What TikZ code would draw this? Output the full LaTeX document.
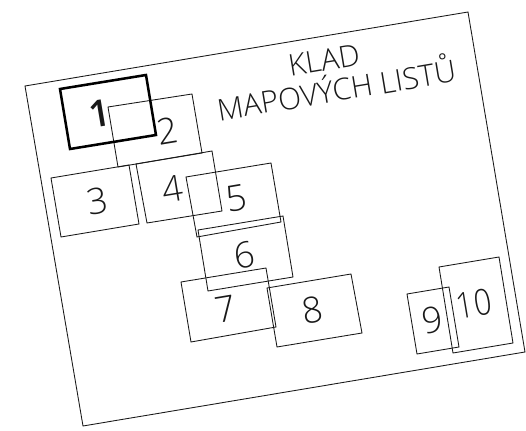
\documentclass[tikz,border=0pt]{standalone}
\usepackage{fontspec}
\setmainfont{Open Sans Light}
\newfontfamily\heavyfont{Open Sans Semibold}
\tikzset{
  sheet/.style={draw=black!90,line width=0.65pt},
  label/.style={inner sep=0pt,rotate=9.5,text=black!90,font=\fontsize{27}{27}\selectfont},
  title/.style={inner sep=0pt,rotate=9.5,text=black!90,font=\fontsize{22.5}{23}\selectfont},
}
\begin{document}
\begin{tikzpicture}[x=0.75pt,y=-0.75pt]
\useasboundingbox (0,0) rectangle (526,431);
\draw[sheet] (25,86) -- (468,12) -- (525,352) -- (83,426) -- cycle;
\draw[sheet] (108,107) -- (192,94) -- (202,153) -- (118,167) -- cycle;
\draw[sheet] (51,178) -- (129,165) -- (139,224) -- (61,237) -- cycle;
\draw[sheet] (136,164) -- (212,151) -- (222,211) -- (147,223) -- cycle;
\draw[sheet] (186,177) -- (271,163) -- (281,222) -- (197,237) -- cycle;
\draw[sheet] (198,230) -- (283,216) -- (293,277) -- (208,291) -- cycle;
\draw[sheet] (181,282) -- (266,268) -- (276,327) -- (191,342) -- cycle;
\draw[sheet] (267,288) -- (351,274) -- (362,333) -- (277,347) -- cycle;
\draw[sheet] (407,294) -- (449,287) -- (459,347) -- (417,354) -- cycle;
\draw[sheet] (439,267) -- (499,257) -- (513,343) -- (453,353) -- cycle;
\draw[line width=1.9pt,black] (60,89) -- (146,75) -- (156,135) -- (70,149) -- cycle;
\node[label,font=\heavyfont\fontsize{28}{28}\selectfont] (n1) at (100,114) {1};
\node[label] (n2) at (167,131) {2};
\node[label] (n3) at (98,201) {3};
\node[label] (n4) at (172,189) {4};
\node[label] (n5) at (237,198) {5};
\node[label] (n6) at (245,255) {6};
\node[label] (n7) at (226,309) {7};
\node[label] (n8) at (313,310) {8};
\node[label] (n9) at (433,320) {9};
\node[label,xscale=0.85] (n10) at (474,304) {10};
\node[title] (t1) at (324,60) {KLAD};
\node[title] (t2) at (336,87) {MAPOVÝCH LISTŮ};
\end{tikzpicture}
\end{document}
